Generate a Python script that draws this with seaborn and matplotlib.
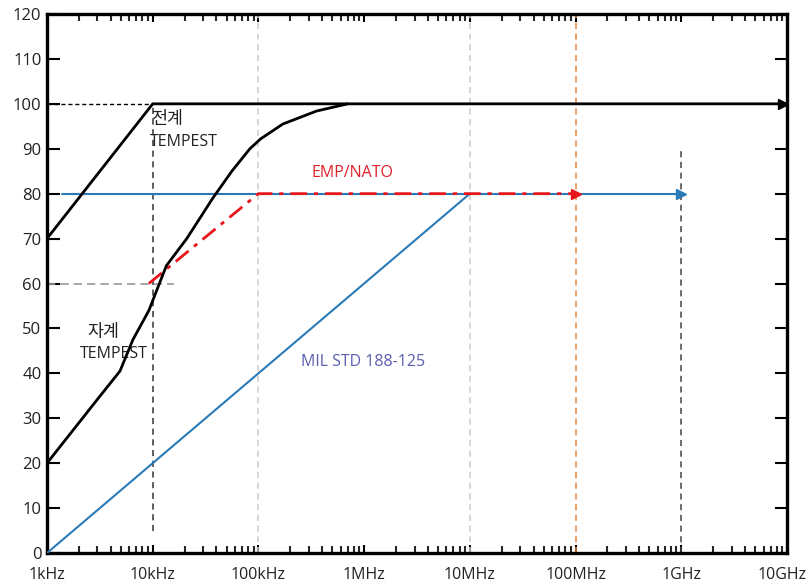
import matplotlib
matplotlib.use("Agg")
import matplotlib.pyplot as plt
import matplotlib.transforms as mtrans
import seaborn as sns
import numpy as np

# ---------------- data ----------------
tick_freqs = [1e3, 1e4, 1e5, 1e6, 1e7, 1e8, 1e9, 1e10]
tick_labels = ['1kHz', '10kHz', '100kHz', '1MHz', '10MHz', '100MHz', '1GHz', '10GHz']
y_ticks = list(range(0, 121, 10))

# electric-field TEMPEST (black)
e_freq = [1e3, 1e4, 1e10]
e_level = [70, 100, 100]

# magnetic-field TEMPEST (black curve)
h_freq = [1e3, 2.95e3, 4.9e3, 6.5e3, 9.2e3, 11.7e3, 13.5e3, 21e3, 37e3,
          56e3, 83e3, 105e3, 170e3, 355e3, 700e3]
h_level = [20, 34, 40.5, 47.5, 54, 60.3, 64, 70, 79,
           85, 90, 92.2, 95.5, 98.4, 100]

# EMP/NATO (red dash-dot)
emp_freq = [9.2e3, 1e5, 1e8]
emp_level = [60, 80, 80]

# MIL STD 188-125 (blue)
mil_freq = [1e3, 1e7]
mil_level = [0, 80]
blue_h_freq = [1.4e3, 1e9]
blue_h_level = [80, 80]

# guide lines
guide100_freq = [1e3, 1e4]
guide100_level = [100, 100]
guide60_freq = [1e3, 16e3]
guide60_level = [60, 60]

vline_freqs = [1e4, 1e5, 1e7, 1e8, 1e9]
vline_bottom = [5, 0, 0, 0, 0]
vline_top = [100, 120, 120, 120, 90]
vline_colors = ['#333333', '#cccccc', '#cccccc', '#e8853d', '#444444']

# ---------------- style ----------------
sns.set_theme(style="white")
plt.rcParams['font.family'] = ['Open Sans', 'Noto Sans CJK KR', 'DejaVu Sans']

fig = plt.figure(figsize=(8.1, 5.84), dpi=100)
ax = fig.add_axes([47 / 810, 31 / 584, 740 / 810, 539 / 584])

# vertical guides
for f, b, t, c in zip(vline_freqs, vline_bottom, vline_top, vline_colors):
    ax.vlines(f, b, t, colors=c, linewidth=1.1, linestyles=(0, (4, 3)), zorder=1)

sns.lineplot(x=guide100_freq, y=guide100_level, ax=ax, color='black',
             linewidth=1.0, linestyle=(0, (3, 2)), zorder=2)
sns.lineplot(x=guide60_freq, y=guide60_level, ax=ax, color='#999999',
             linewidth=1.2, linestyle=(0, (5, 3)), zorder=2)

# MIL STD
sns.lineplot(x=mil_freq, y=mil_level, ax=ax, color='#2a7ab8', linewidth=1.5, zorder=3)
sns.lineplot(x=blue_h_freq, y=blue_h_level, ax=ax, color='#2a7ab8', linewidth=1.5, zorder=3)
ax.plot(blue_h_freq[-1], blue_h_level[-1], marker='>', color='#2a7ab8',
        markersize=7, zorder=4)

# EMP/NATO
sns.lineplot(x=emp_freq, y=emp_level, ax=ax, color='#e8151b', linewidth=2.0,
             linestyle=(0, (6, 2.5, 1.5, 2.5)), zorder=5)
ax.plot(emp_freq[-1], emp_level[-1], marker='>', color='#e8151b',
        markersize=7, zorder=5)

# electric TEMPEST
sns.lineplot(x=e_freq, y=e_level, ax=ax, color='black', linewidth=2.0, zorder=6)
ax.plot(e_freq[-1] * 0.92, e_level[-1], marker='>', color='black',
        markersize=7, zorder=6)

# magnetic TEMPEST
sns.lineplot(x=h_freq, y=h_level, ax=ax, color='black', linewidth=2.0, zorder=6)

# texts
fs = 11.5
fk = 12.5
ax.text(1e3 * 10 ** 0.985, 96.4, '전계', ha='left', va='center',
        fontsize=fk, color='#222222')
ax.text(1e3 * 10 ** 0.975, 91.5, 'TEMPEST', ha='left', va='center',
        fontsize=fs, color='#222222')
ax.text(1e3 * 10 ** 0.53, 49, '자계', ha='center', va='center',
        fontsize=fk, color='#222222')
ax.text(1e3 * 10 ** 0.63, 44.2, 'TEMPEST', ha='center', va='center',
        fontsize=fs, color='#222222')
ax.text(1e3 * 10 ** 2.89, 84.6, 'EMP/NATO', ha='center', va='center',
        fontsize=fs, color='#e0202a')
ax.text(1e3 * 10 ** 2.99, 42.6, 'MIL STD 188-125', ha='center', va='center',
        fontsize=fs, color='#5a5fae')

# axes
ax.set_xscale('log')
ax.set_xlim(1e3, 1e10)
ax.set_ylim(0, 120)
ax.set_xticks(tick_freqs)
ax.set_xticklabels(tick_labels)
ax.set_yticks(y_ticks)
ax.set_xlabel('')
ax.set_ylabel('')
for s in ax.spines.values():
    s.set_linewidth(2.4)
    s.set_color('black')
    s.set_visible(True)
ax.tick_params(axis='x', which='major', direction='in', top=True, bottom=True,
               length=6, width=1.5, labelsize=fs, pad=10, colors='black')
ax.tick_params(axis='x', which='minor', direction='in', top=True, bottom=True,
               length=5, width=1.5)
ax.tick_params(axis='y', which='major', direction='in', left=True, right=True,
               length=9, width=1.5, labelsize=fs + 0.5, pad=4, colors='black')
for lab in ax.get_xticklabels() + ax.get_yticklabels():
    lab.set_color('#222222')
xl = ax.get_xticklabels()
xl[-1].set_horizontalalignment('right')
xl[-1].set_transform(xl[-1].get_transform() +
                     mtrans.ScaledTranslation(20 / 100, 0, fig.dpi_scale_trans))

fig.savefig('out.png', dpi=100)
